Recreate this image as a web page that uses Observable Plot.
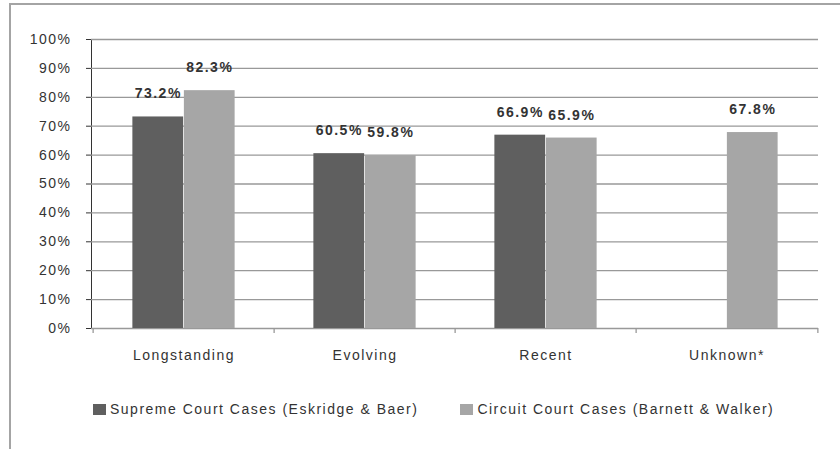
<!DOCTYPE html>
<html>
<head>
<meta charset="utf-8">
<script src="https://cdn.jsdelivr.net/npm/d3@7"></script>
<script src="https://cdn.jsdelivr.net/npm/@observablehq/plot@0.6"></script>
<style>
  html, body { margin: 0; padding: 0; background: #fff; }
  #wrap { position: relative; width: 840px; height: 449px; overflow: hidden; font-family: "Liberation Sans", Arial, sans-serif; }
  #frame { position: absolute; left: 9px; top: 3px; width: 860px; height: 470px; border-top: 2px solid #a4a4a4; border-left: 2px solid #a4a4a4; }
  #chart { position: absolute; left: 0; top: 0; }
  #legend { position: absolute; top: 401px; left: 93px; display: flex; align-items: center; font-size: 14px; letter-spacing: 1.5px; color: #333; }
  .item { display: flex; align-items: center; }
  .sw { width: 13px; height: 11px; margin-right: 4px; }
</style>
</head>
<body>
<div id="wrap">
  <div id="frame"></div>
  <div id="chart"></div>
  <div id="legend"></div>
</div>
<script>
const categories = ["Longstanding", "Evolving", "Recent", "Unknown*"];
const seriesNames = ["Supreme Court Cases (Eskridge & Baer)", "Circuit Court Cases (Barnett & Walker)"];
const supremeValues = [0.732, 0.605, 0.669, null];
const circuitValues = [0.823, 0.598, 0.659, 0.678];
const yTicks = [0, 0.1, 0.2, 0.3, 0.4, 0.5, 0.6, 0.7, 0.8, 0.9, 1.0];
const seriesColors = ["#5f5f5f", "#a6a6a6"];

const W = 840, H = 375;
const mL = 91, mR = 22, mT = 39, mB = H - 328;
const bw = (W - mL - mR) / categories.length;
const barW = 51.5;

const supremeRows = categories.map((c, i) => ({category: c, value: supremeValues[i]})).filter(d => d.value != null);
const circuitRows = categories.map((c, i) => ({category: c, value: circuitValues[i]})).filter(d => d.value != null);
const fmt = d => (d.value * 100).toFixed(1) + "%";

const chart = Plot.plot({
  width: W, height: H,
  marginLeft: mL, marginRight: mR, marginTop: mT, marginBottom: mB,
  style: {fontFamily: "'Liberation Sans', Arial, sans-serif", fontSize: "14px", color: "#333", background: "transparent", overflow: "visible"},
  x: {domain: categories, padding: 0, tickSize: 0, tickPadding: 22, label: null},
  y: {domain: [0, 1], ticks: yTicks, tickFormat: d3.format(".0%"), tickSize: 5, tickPadding: 15, label: null, line: true},
  marks: [
    Plot.ruleY(yTicks, {stroke: "#999", strokeWidth: 1.3}),
    Plot.ruleX(categories, {x: d => d, y1: 0, y2: 0, insetBottom: -5, dx: -bw / 2, stroke: "#999", strokeWidth: 1.3}),
    Plot.ruleX([categories[categories.length - 1]], {x: d => d, y1: 0, y2: 0, insetBottom: -5, dx: bw / 2, stroke: "#999", strokeWidth: 1.3}),
    Plot.barY(supremeRows, {x: "category", y: "value", fill: seriesColors[0], insetLeft: bw / 2 - barW, insetRight: bw / 2}),
    Plot.barY(circuitRows, {x: "category", y: "value", fill: seriesColors[1], insetLeft: bw / 2, insetRight: bw / 2 - barW}),
    Plot.text(supremeRows, {x: "category", y: "value", text: fmt, dx: -barW / 2, dy: -23, fontWeight: "bold", fill: "#333", fontSize: 14}),
    Plot.text(circuitRows, {x: "category", y: "value", text: fmt, dx: barW / 2, dy: -23, fontWeight: "bold", fill: "#333", fontSize: 14})
  ]
});
chart.style.letterSpacing = "1.5px";
document.getElementById("chart").appendChild(chart);

const legend = document.getElementById("legend");
seriesNames.forEach((name, i) => {
  const item = document.createElement("div");
  item.className = "item";
  if (i > 0) item.style.marginLeft = "42px";
  const sw = document.createElement("div");
  sw.className = "sw";
  sw.style.background = seriesColors[i];
  const t = document.createElement("span");
  t.textContent = name;
  item.appendChild(sw);
  item.appendChild(t);
  legend.appendChild(item);
});
</script>
</body>
</html>
